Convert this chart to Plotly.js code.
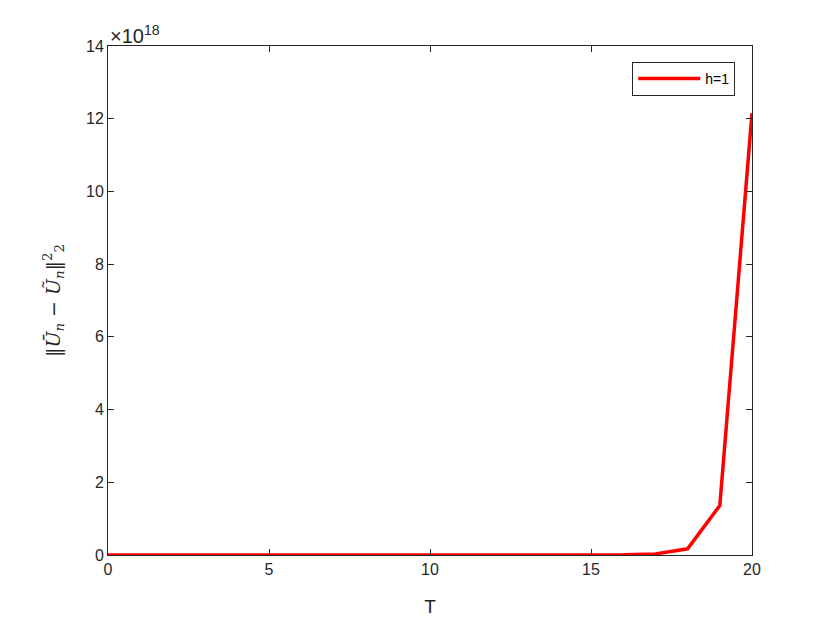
<!DOCTYPE html>
<html>
<head>
<meta charset="utf-8">
<script src="https://cdn.plot.ly/plotly-3.0.1.min.js"></script>
<style>html,body{margin:0;padding:0;background:#fff;}#chart{width:830px;height:623px;}</style>
</head>
<body>
<div id="chart"></div>
<script>
// T values and error (in units of 1e18)
const T = [0,1,2,3,4,5,6,7,8,9,10,11,12,13,14,15,16,17,18,19,20];
const err = [0,0,0,0,0,0,0,0,0,0.0000001,0.000001,0.00001,0.00003,0.0002,0.0004,0.002,0.004,0.03,0.17,1.36,12.15];
const xTicks = [0,5,10,15,20];
const yTicks = [0,2,4,6,8,10,12,14];
const seriesName = 'h=1';
const multiplier = '×10<sup>18</sup>';

const axisColor = '#262626';
const fontFam = 'Liberation Sans, Arial, sans-serif';

const trace = {
  x: T, y: err, type: 'scatter', mode: 'lines', name: seriesName,
  line: {color: '#ff0000', width: 3.5}
};

const layout = {
  width: 830, height: 623,
  margin: {l: 108, r: 78, t: 46, b: 68, pad: 0},
  paper_bgcolor: '#ffffff', plot_bgcolor: '#ffffff',
  font: {family: fontFam, color: axisColor, size: 16},
  showlegend: true,
  legend: {
    x: 0.974, y: 0.969, xanchor: 'right', yanchor: 'top',
    bordercolor: axisColor, borderwidth: 1, bgcolor: '#ffffff',
    itemwidth: 62, tracegroupgap: 0,
    font: {family: fontFam, size: 14, color: '#000'}
  },
  xaxis: {
    range: [0, 20], tickvals: xTicks, ticktext: xTicks.map(String),
    ticks: 'inside', ticklen: 6, tickcolor: axisColor, tickwidth: 1,
    showline: true, linecolor: axisColor, linewidth: 1, mirror: 'ticks',
    showgrid: false, zeroline: false,
    tickfont: {size: 16, color: axisColor},
    title: {text: 'T', font: {size: 19, color: axisColor}, standoff: 22}
  },
  yaxis: {
    range: [0, 14], tickvals: yTicks, ticktext: yTicks.map(String),
    ticks: 'inside', ticklen: 6, tickcolor: axisColor, tickwidth: 1,
    showline: true, linecolor: axisColor, linewidth: 1, mirror: 'ticks',
    showgrid: false, zeroline: false,
    tickfont: {size: 16, color: axisColor},
    title: {text: '‖<i>Ū</i><sub><i>n</i></sub> − <i>Ũ</i><sub><i>n</i></sub>‖<sup>2</sup><sub>2</sub>',
            font: {size: 19, family: 'DejaVu Serif, serif', color: axisColor}, standoff: 20}
  },
  annotations: [{
    text: multiplier, xref: 'paper', yref: 'paper', x: 0, y: 1,
    xanchor: 'left', yanchor: 'bottom', showarrow: false,
    font: {size: 20, color: axisColor, family: fontFam}, yshift: -3
  }]
};

Plotly.newPlot('chart', [trace], layout, {displayModeBar: false, staticPlot: true});
</script>
</body>
</html>
